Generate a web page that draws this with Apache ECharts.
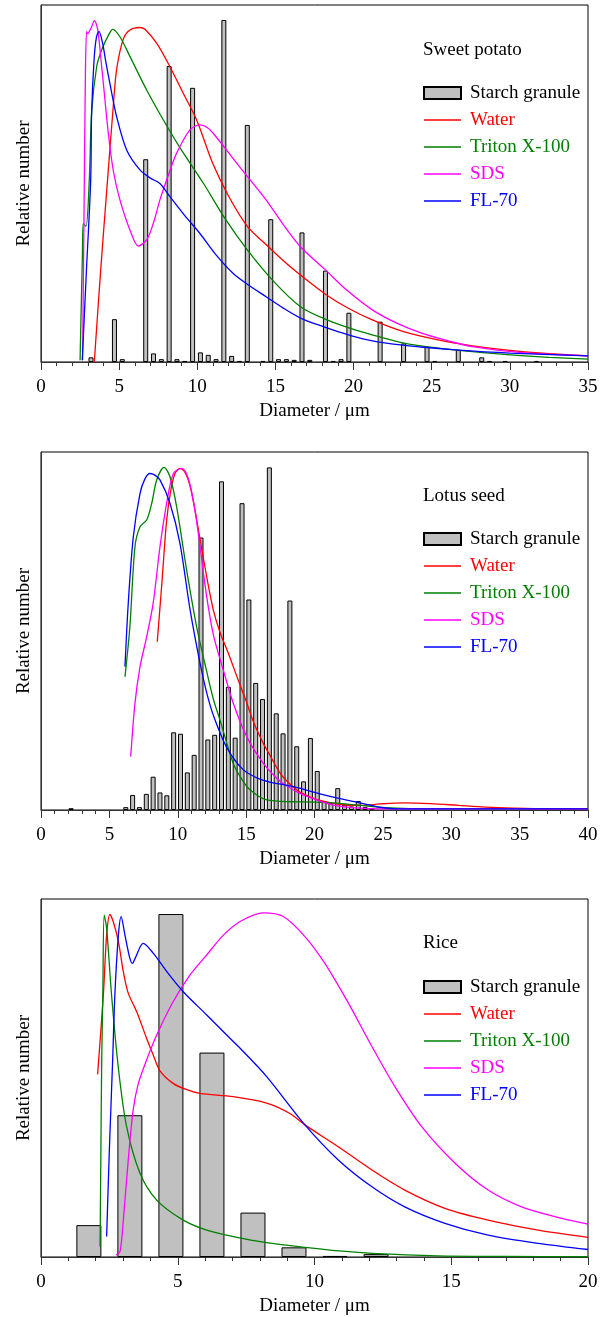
<!DOCTYPE html>
<html>
<head>
<meta charset="utf-8">
<title>Starch granule size distribution</title>
<script src="https://cdn.jsdelivr.net/npm/echarts@6/dist/echarts.min.js"></script>
<style>
  html, body { margin: 0; padding: 0; background: #fff; }
  #chart { width: 610px; height: 1317px; }
</style>
</head>
<body>
<div id="chart"></div>
<script>
// ---- data: [diameter (um), relative number (0-100)] ----
var seriesNames = ['Starch granule', 'Water', 'Triton X-100', 'SDS', 'FL-70'];
var panelTitles = ['Sweet potato', 'Lotus seed', 'Rice'];
var xMaxes = [35, 40, 20];

// sweet potato
var spBars = [[3.2,1.3],[4.7,12],[5.2,0.8],[6.7,56.8],[7.2,2.4],[7.7,0.8],[8.2,82.9],[8.7,0.8],[9.2,0.3],
  [9.7,76.8],[10.2,2.7],[10.7,2],[11.2,0.8],[11.7,95.8],[12.2,1.7],[12.7,0.3],[13.2,66.4],[14.2,0.3],
  [14.7,40],[15.2,0.8],[15.7,0.8],[16.2,0.6],[16.7,36.3],[17.2,0.6],[18.2,25.6],[18.7,0.3],[19.2,0.8],
  [19.7,13.8],[21.7,11.3],[23.2,5.2],[24.7,4.3],[25.2,0.3],[26.7,3.4],[28.2,1.3],[28.7,0.3],[29.7,0.3],[31.7,0.3]];
var spWater = [[3.41,0],[3.82,25.8],[4.24,50],[4.63,72],[4.84,82],[5.27,90.5],[5.69,93],[6.33,93.7],[6.65,93.2],
  [7.4,89.3],[8.25,82.7],[9.1,75.3],[9.96,67.8],[11,55.5],[12,46.5],[13.2,38],[14.5,32.5],[15.6,28],[16.9,23.3],
  [18.2,19],[19.6,15.2],[21.2,11.8],[23.2,8.5],[25.4,6.2],[27.5,4.6],[29.7,3.4],[32.3,2.4],[35,1.7]];
var spTriton = [[2.5,0.5],[2.65,30],[2.71,38.8],[2.88,38],[3.09,51],[3.24,70],[3.56,82.7],[3.88,87.4],[4.31,91.5],
  [4.59,93.2],[5.05,91.1],[5.69,85.6],[6.76,76.2],[7.83,67.8],[8.9,60],[10.4,50],[11.8,40],[13.2,31.4],[14.9,22.5],
  [16.6,15.5],[18.3,11.8],[20.1,9],[21.7,7],[23.3,5.2],[25.4,3.9],[27.6,2.9],[30,2],[32.5,1.3],[35,0.8]];
var spSds = [[2.66,0.5],[2.75,40],[2.84,80],[2.92,92.6],[3.0,92],[3.09,92.6],[3.25,94],[3.41,95.6],[3.55,94.5],
  [3.67,92],[3.83,85],[3.99,78],[4.31,64],[4.63,53.5],[5.05,45.4],[5.69,37],[6.23,32.5],[6.76,34.2],[7.2,39],
  [7.61,45.4],[8.2,53],[8.68,58.5],[9.53,65],[10.17,66.4],[10.7,65.5],[11.2,63.1],[12.7,54.7],[14.4,45.4],
  [15.5,38.5],[16.6,32.3],[18.2,25.8],[19.6,20],[21.2,14.6],[22.8,10.8],[24.4,8],[26,6],[27.6,4.3],[30.8,2.6],[35,1.7]];
var spFl = [[2.64,0.5],[2.9,25],[3.18,51],[3.24,70],[3.4,85],[3.55,91],[3.71,92.6],[3.94,89.3],[4.15,84],[4.41,78],
  [4.84,68.7],[5.48,59.4],[6.33,53.8],[7,51.5],[7.61,50],[8.25,46.3],[9.2,41],[10.17,36],[11.2,30],[12.3,24.8],
  [13.3,21.5],[14.4,18.3],[15.5,15.1],[16.6,12.3],[17.8,10.3],[19,8.5],[20.6,6.5],[22.2,5.2],[24.3,4.2],[26.5,3.4],
  [30,2.5],[35,1.7]];

// lotus seed
var lsBars = [[2.2,0.5],[6.2,0.8],[6.7,4.2],[7.2,0.8],[7.7,4.5],[8.2,9.3],[8.7,4.9],[9.2,4.1],[9.7,21.7],[10.2,21.3],
  [10.7,10.5],[11.2,15.4],[11.7,76.1],[12.2,19.7],[12.7,21],[13.2,91.8],[13.7,34.4],[14.2,20.2],[14.7,85.7],
  [15.2,58.8],[15.7,35.5],[16.2,31],[16.7,95.7],[17.2,27],[17.7,21.4],[18.2,58.5],[18.7,17.8],[19.2,8],[19.7,20.1],
  [20.2,10.9],[20.7,2.5],[21.2,2],[21.7,6.1],[22.2,1.5],[22.7,1],[23.2,2.5],[23.7,0.8],[24.2,0.5]];
var lsWater = [[8.5,47],[8.82,62.4],[9.19,81],[9.5,89.5],[9.8,94],[10.16,95.4],[10.5,94.5],[10.9,90.5],[11.3,83],
  [11.6,76.3],[12.1,65.5],[12.6,55.9],[13.1,49.5],[13.7,43.8],[14.4,36.5],[15.04,30],[15.6,24],[16.26,18.6],
  [16.9,14.2],[17.5,10.2],[18.1,7.6],[18.7,5.6],[19.3,4.3],[20.2,2.9],[21.2,2],[22.3,1.4],[23.5,1.3],[24.8,1.7],
  [26.5,2],[28.5,1.8],[30.5,1.3],[32.5,0.8],[34.5,0.5],[37,0.3],[40,0.3]];
var lsTriton = [[6.14,37.2],[6.5,51.2],[6.87,73.5],[7.24,79.1],[7.73,81],[8.1,85.7],[8.46,92.2],[9,95.7],[9.43,93.1],
  [9.92,84.7],[10.65,67],[11.39,51],[12.1,39],[12.6,31],[13.1,25],[14.06,13],[14.7,8.5],[15.3,5.6],[16.5,2.8],
  [18.45,2.3],[20,2.2],[22,1.8],[24.9,0.7],[27,0.4],[40,0.4]];
var lsSds = [[6.56,14.9],[6.87,29.8],[7.24,40],[7.73,48.4],[8.2,57.7],[8.7,73.5],[9.19,85.7],[9.68,94],[10.3,95.4],
  [10.77,92.6],[11.2,85],[11.6,74.5],[12.1,60],[12.6,49],[13.33,39.1],[14.06,29.8],[15.04,20.5],[16.26,13],
  [17.2,9],[17.7,7.4],[18.9,4.7],[20.4,2.5],[21.5,1.3],[23,0.6],[25,0.3],[40,0.3]];
var lsFl = [[6.14,40],[6.38,57.7],[6.75,76.3],[7.24,88.4],[7.6,92.5],[7.97,94],[8.3,93.6],[8.7,92.2],[9.43,85.7],
  [10.16,74.5],[10.9,56],[11.63,41],[12.1,33],[12.6,26.5],[13.58,17.5],[14.8,11.2],[16,8.6],[16.75,7.8],
  [18.45,6.5],[20.4,4.5],[21.7,3.3],[23.3,2],[24.9,0.7],[26,0.3],[40,0.3]];

// rice
var riceBars = [[1.75,8.9],[3.25,39.6],[4.75,95.8],[6.25,57.1],[7.75,12.4],[9.25,2.7],[10.75,0.3],[12.25,0.8]];
var riceWater = [[2.07,51],[2.28,73.2],[2.4,89.9],[2.52,95.7],[2.64,93.7],[2.83,88.1],[3.01,79.7],[3.19,73.7],
  [3.5,68.5],[3.86,61.1],[4.1,56.5],[4.35,52],[4.83,48.5],[5.3,46.8],[5.81,45.7],[7.03,44.8],[8.25,43],[9.1,40.1],
  [9.65,36.9],[10.87,30.8],[12.1,24.3],[13.3,18.7],[14.77,13.6],[16.35,10.3],[18.18,7.5],[20,5.5]];
var riceTriton = [[2.16,2.9],[2.19,30],[2.22,55],[2.26,73.2],[2.31,95.5],[2.4,91.8],[2.58,73.2],[2.83,52.7],
  [3.13,36.4],[3.62,23.4],[4.23,15.9],[5.2,10.3],[6.06,7.5],[7.03,5.7],[8.25,4],[9.65,2.7],[10.9,1.7],[12.1,1],
  [14.5,0.3],[17,0.15],[20,0.1]];
var riceSds = [[2.74,0.6],[2.89,1.5],[3.01,10.3],[3.19,27.1],[3.37,41.1],[3.56,48.5],[3.86,55],[4.23,62],[4.83,71.3],
  [5.45,78.8],[6.06,84.4],[6.67,89.9],[7.28,93.7],[8.13,96.1],[8.86,95.1],[9.65,89.5],[10.38,82],[11.24,70.9],
  [12.1,58.8],[12.94,47.6],[13.92,36.4],[15.14,26.2],[16.35,18.7],[17.57,14],[18.79,11.3],[20,9.2]];
var riceFl = [[2.4,5.7],[2.5,30],[2.62,55],[2.7,73.2],[2.83,89.9],[2.93,95.1],[3.07,89.9],[3.25,83.4],[3.35,82],
  [3.44,83.4],[3.74,87.6],[4.11,84.8],[4.6,79.7],[5.2,74.1],[6.06,67.6],[6.79,62],[7.28,58.3],[8.25,50.4],
  [9.65,36.9],[10.87,27.1],[12.1,19.6],[13.3,14],[14.77,9.4],[16.35,6.1],[18.18,3.8],[20,2.1]];

var panelBars = [spBars, lsBars, riceBars];
var panelLines = [
  [spWater, spTriton, spSds, spFl],
  [lsWater, lsTriton, lsSds, lsFl],
  [riceWater, riceTriton, riceSds, riceFl]
];

// ---- layout / style ----
var FONT = '"Liberation Serif", "Times New Roman", serif';
var lineColors = ['#ff0000', '#008000', '#ff00ff', '#0000ff'];
var gridTops = [5, 452, 899];
var gridHeights = [357, 358, 358];
var barWidths = [5, 5, 25];
var titleTops = [41, 487, 934];
var legendTops = [83, 529, 977];
var lineIcon = 'path://M0,0H37V1.4H0Z';

var chart = echarts.init(document.getElementById('chart'));

var grids = [], xAxes = [], yAxes = [], series = [], titles = [], legends = [];

for (var i = 0; i < 3; i++) {
  grids.push({
    left: 41, top: gridTops[i], width: 547, height: gridHeights[i],
    show: true, borderColor: '#000', borderWidth: 1, backgroundColor: 'transparent'
  });
  xAxes.push({
    gridIndex: i, type: 'value', min: 0, max: xMaxes[i], interval: 5,
    name: 'Diameter / μm', nameLocation: 'middle', nameGap: 40,
    nameTextStyle: { fontFamily: FONT, fontSize: 19, color: '#000' },
    axisLine: { show: true, onZero: false, lineStyle: { color: '#333', width: 1 } },
    axisTick: { show: true, inside: false, length: 8, lineStyle: { color: '#333' } },
    minorTick: { show: true, splitNumber: 5, length: 4, lineStyle: { color: '#333' } },
    splitLine: { show: false },
    axisLabel: { fontFamily: FONT, fontSize: 19, color: '#000', margin: 16, showMinLabel: true, showMaxLabel: true }
  });
  yAxes.push({
    gridIndex: i, type: 'value', min: 0, max: 100,
    name: 'Relative number', nameLocation: 'middle', nameGap: 7,
    nameTextStyle: { fontFamily: FONT, fontSize: 19, color: '#000' },
    axisLine: { show: true, lineStyle: { color: '#333', width: 1 } },
    axisTick: { show: false }, axisLabel: { show: false }, splitLine: { show: false }
  });

  series.push({
    name: seriesNames[0], type: 'bar', xAxisIndex: i, yAxisIndex: i,
    data: panelBars[i], barWidth: barWidths[i], z: 2,
    itemStyle: { color: '#c0c0c0', borderColor: '#000', borderWidth: 1 }
  });
  for (var k = 0; k < 4; k++) {
    series.push({
      name: seriesNames[k + 1], type: 'line', xAxisIndex: i, yAxisIndex: i,
      data: panelLines[i][k], symbol: 'none', smooth: 0.3, z: 3,
      lineStyle: { color: lineColors[k], width: 1.3 },
      itemStyle: { color: lineColors[k] }
    });
  }

  titles.push({
    text: panelTitles[i], left: 423, top: titleTops[i], padding: 0,
    textStyle: { fontFamily: FONT, fontSize: 19, fontWeight: 'normal', color: '#000' }
  });
  legends.push({
    orient: 'vertical', left: 423, top: legendTops[i], padding: 0,
    itemWidth: 37, itemHeight: 12, itemGap: 7,
    textStyle: { fontFamily: FONT, fontSize: 19, lineHeight: 20, padding: [0, 0, 0, 4] },
    data: seriesNames.map(function (n, j) {
      if (j === 0) {
        return { name: n, icon: 'rect', textStyle: { color: '#000' } };
      }
      return { name: n, icon: lineIcon, textStyle: { color: lineColors[j - 1] } };
    })
  });
}

chart.setOption({
  animation: false,
  backgroundColor: '#fff',
  title: titles,
  legend: legends,
  grid: grids,
  xAxis: xAxes,
  yAxis: yAxes,
  series: series
});
</script>
</body>
</html>
